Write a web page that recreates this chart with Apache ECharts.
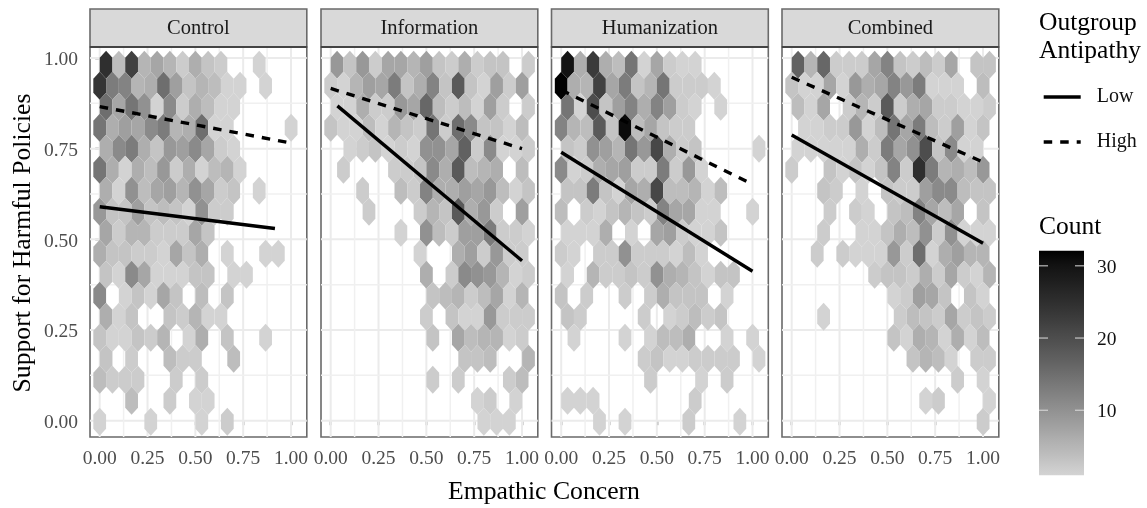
<!DOCTYPE html>
<html>
<head>
<meta charset="utf-8">
<style>html,body{margin:0;padding:0;background:#fff}#c{width:1147px;height:508px}</style>
<script src="https://cdn.jsdelivr.net/npm/echarts@6/dist/echarts.min.js"></script>
</head>
<body>
<div id="c"></div>
<script>
// ---------- data: hex-bin counts, top row first, 16 columns left to right ----------
var panelNames = ['Control', 'Information', 'Humanization', 'Combined'];
var controlCounts = [
  [25,4,22,5,7,5,2,6,3,2,0,0,1,0,0,0],
  [24,13,12,5,6,15,8,3,5,4,1,1,0,1,0,0],
  [15,7,14,10,1,11,2,6,4,1,1,0,0,0,0,0],
  [14,6,8,7,11,13,5,6,15,1,1,0,0,0,0,1],
  [6,11,13,6,3,9,8,11,7,2,1,0,0,0,0,0],
  [14,6,1,6,4,9,2,6,1,4,5,1,0,0,0,0],
  [6,1,10,4,7,8,5,10,7,2,3,0,1,0,0,0],
  [9,3,3,8,3,4,3,1,10,2,2,0,0,0,0,0],
  [7,2,5,5,2,2,2,7,3,0,0,0,0,0,0,0],
  [6,3,3,2,2,1,7,3,6,0,1,0,0,1,1,0],
  [3,1,11,7,1,1,1,3,3,0,1,1,0,0,0,0],
  [11,0,1,3,1,7,3,0,4,0,3,0,0,0,0,0],
  [6,1,3,0,0,3,2,5,1,1,0,0,0,0,0,0],
  [3,1,1,3,2,5,0,1,6,0,3,0,0,1,0,0],
  [3,0,2,0,0,4,2,2,0,0,4,0,0,0,0,0],
  [4,2,2,2,0,0,2,0,2,0,0,0,0,0,0,0],
  [0,0,4,0,0,2,0,1,1,0,0,0,0,0,0,0],
  [1,0,0,0,1,0,0,0,1,0,2,0,0,0,0,0]
];
var informationCounts = [
  [9,3,9,2,7,7,5,8,3,2,6,2,3,3,0,2],
  [2,1,5,8,7,13,3,6,12,3,18,3,1,8,2,8],
  [1,1,6,2,2,9,7,16,4,2,4,1,8,2,0,2],
  [3,1,1,4,1,5,3,2,14,2,15,11,3,3,1,4],
  [0,1,2,3,1,2,1,10,10,7,17,2,11,1,1,2],
  [0,2,0,0,0,2,2,3,11,6,18,4,5,6,0,4],
  [0,0,2,0,0,4,2,12,6,6,8,7,9,4,1,3],
  [0,0,0,2,0,0,0,2,5,3,18,6,9,2,0,8],
  [0,0,0,0,0,1,0,10,4,2,8,8,13,2,2,1],
  [0,0,0,0,0,0,0,1,0,0,6,8,2,9,2,2],
  [0,0,0,0,0,0,0,6,0,2,11,10,9,5,1,2],
  [0,0,0,0,0,0,0,0,3,4,5,2,4,7,1,5],
  [0,0,0,0,0,0,0,2,0,3,1,1,9,2,2,2],
  [0,0,0,0,0,0,0,0,3,0,7,4,5,5,1,2],
  [0,0,0,0,0,0,0,0,0,0,3,3,4,0,0,5],
  [0,0,0,0,0,0,0,0,2,0,2,0,0,0,2,4],
  [0,0,0,0,0,0,0,0,0,0,0,1,2,0,1,0],
  [0,0,0,0,0,0,0,0,0,0,0,0,1,1,1,0]
];
var humanizationCounts = [
  [30,6,23,6,4,14,1,7,2,1,1,0,0,0,0,0],
  [32,6,5,22,7,13,3,5,14,2,2,2,1,0,0,0],
  [14,1,20,3,8,12,6,12,8,2,1,0,1,0,0,0],
  [12,5,4,18,3,31,4,7,3,2,2,0,0,0,0,0],
  [3,2,10,8,5,14,9,21,6,2,3,0,0,0,0,1],
  [11,1,2,6,7,8,2,2,13,2,9,1,0,0,0,0],
  [3,3,13,3,1,7,6,21,4,4,5,1,4,0,0,0],
  [4,0,2,1,3,5,3,2,12,7,7,1,1,0,0,1],
  [1,1,1,6,0,1,0,7,8,2,1,1,3,0,0,0],
  [2,1,0,2,2,10,2,2,2,1,4,1,0,0,0,0],
  [1,0,5,2,2,3,2,10,6,5,3,1,3,3,0,0],
  [3,0,2,0,0,2,0,2,6,3,3,3,0,1,0,0],
  [3,2,0,0,0,0,2,0,1,2,4,2,3,0,0,0],
  [0,1,0,0,0,1,0,1,4,4,6,0,0,1,0,1],
  [0,0,0,0,0,0,2,3,1,1,2,2,2,2,0,1],
  [0,0,0,0,0,0,0,2,0,0,0,1,0,2,0,0],
  [1,1,1,0,0,0,0,0,0,0,2,0,0,0,0,0],
  [0,0,0,1,0,1,0,0,0,0,2,0,0,0,1,0]
];
var combinedCounts = [
  [17,5,16,2,2,2,7,12,3,2,4,2,7,0,3,3],
  [3,1,1,7,1,9,6,7,12,9,13,1,1,1,0,4],
  [4,1,7,0,2,5,2,18,2,6,7,2,2,1,1,2],
  [0,1,1,2,2,9,1,4,14,7,13,4,2,8,1,3],
  [1,1,1,1,1,6,2,13,7,10,20,3,11,1,1,0],
  [2,0,0,3,1,3,1,3,12,2,25,13,5,6,4,9],
  [0,0,3,2,0,1,0,3,2,2,8,11,11,4,3,3],
  [0,0,0,2,0,2,1,0,3,4,12,7,4,7,0,3],
  [0,0,2,0,0,1,1,3,6,4,10,2,10,1,1,1],
  [0,0,2,0,2,1,1,1,9,2,15,1,6,8,5,5],
  [0,0,0,0,0,0,2,3,3,2,6,2,7,2,1,5],
  [0,0,0,0,0,0,0,0,1,2,8,7,3,0,3,1],
  [0,0,1,0,0,0,0,0,2,4,3,2,7,2,3,2],
  [0,0,0,0,0,0,0,0,3,1,6,5,1,6,1,4],
  [0,0,0,0,0,0,0,0,0,3,5,4,1,0,2,2],
  [0,0,0,0,0,0,0,0,0,0,0,0,0,2,0,1],
  [0,0,0,0,0,0,0,0,0,0,1,2,0,0,0,1],
  [0,0,0,0,0,0,0,0,0,0,0,0,0,0,0,2]
];
// fitted lines: [empathic concern, support]
var controlLow = [[0, 0.59], [0.916, 0.53]];
var controlHigh = [[0, 0.866], [0.986, 0.767]];
var informationLow = [[0.035, 0.868], [1, 0.441]];
var informationHigh = [[0, 0.916], [1, 0.75]];
var humanizationLow = [[0, 0.74], [1, 0.412]];
var humanizationHigh = [[0, 0.912], [0.972, 0.659]];
var combinedLow = [[0, 0.788], [1, 0.489]];
var combinedHigh = [[0, 0.947], [1, 0.713]];
var tickValues = [0, 0.25, 0.5, 0.75, 1];
var minorValues = [0.125, 0.375, 0.625, 0.875];
var countTicks = [10, 20, 30];

// ---------- layout ----------
var FONT = '"Liberation Serif"';
var panelLeft = [90, 321, 551.5, 782];
var panelW = 216.8, panelTop = 47, panelH = 390;
var xMin = -0.0507, xMax = 1.0825, yMin = -0.045, yMax = 1.0304;
var binX = 0.0667, binY = 0.0579, binY0 = -0.003;
var countMin = 1, countMax = 32.1;

function countGray(c) {
  var L = 84.6 * (1 - (c - countMin) / (countMax - countMin));
  var Y = L > 8 ? Math.pow((L + 16) / 116, 3) : L / 903.3;
  var s = Y <= 0.0031308 ? 12.92 * Y : 1.055 * Math.pow(Y, 1 / 2.4) - 0.055;
  var v = Math.round(Math.max(0, Math.min(1, s)) * 255);
  return 'rgb(' + v + ',' + v + ',' + v + ')';
}

function hexData(rows) {
  var out = [];
  rows.forEach(function (row, r) {
    var level = rows.length - 1 - r;
    row.forEach(function (count, j) {
      if (count > 0) out.push([(j + (level % 2 ? 0.5 : 0)) * binX, binY0 + level * binY, count]);
    });
  });
  return out;
}

function renderHex(params, api) {
  var x = api.value(0), y = api.value(1);
  var hx = binX / 2, hy = binY / 3;
  var pts = [[0, 2 * hy], [hx, hy], [hx, -hy], [0, -2 * hy], [-hx, -hy], [-hx, hy]].map(function (d) {
    return api.coord([x + d[0], y + d[1]]);
  });
  return { type: 'polygon', shape: { points: pts }, style: { fill: countGray(api.value(2)) }, silent: true };
}

function renderGridLine(params, api) {
  var v = api.value(0), isX = api.value(1) === 0, major = api.value(2) === 1;
  var a = isX ? api.coord([v, yMin]) : api.coord([xMin, v]);
  var b = isX ? api.coord([v, yMax]) : api.coord([xMax, v]);
  return {
    type: 'line', shape: { x1: a[0], y1: a[1], x2: b[0], y2: b[1] },
    style: { stroke: major ? '#ebebeb' : '#f0f0f0', lineWidth: major ? 2 : 1.5 }, silent: true
  };
}

var gridLineData = [];
tickValues.forEach(function (v) { gridLineData.push([v, 0, 1], [v, 1, 1]); });
minorValues.forEach(function (v) { gridLineData.push([v, 0, 0], [v, 1, 0]); });

var allCounts = [controlCounts, informationCounts, humanizationCounts, combinedCounts];
var allLow = [controlLow, informationLow, humanizationLow, combinedLow];
var allHigh = [controlHigh, informationHigh, humanizationHigh, combinedHigh];

var grids = [], xAxes = [], yAxes = [], series = [], graphics = [];
var tickStyle = { show: true, length: 4.5, lineStyle: { color: '#333', width: 1.4 }, customValues: tickValues };
var labelStyle = { show: true, color: '#4d4d4d', fontFamily: FONT, fontSize: 19.5, customValues: tickValues,
  formatter: function (v) { return Number(v).toFixed(2); } };

panelNames.forEach(function (name, i) {
  grids.push({ left: panelLeft[i], top: panelTop, width: panelW, height: panelH, show: true,
    backgroundColor: '#fff', borderColor: '#6a6a6a', borderWidth: 1.6, containLabel: false });
  xAxes.push({ type: 'value', gridIndex: i, min: xMin, max: xMax, splitLine: { show: false }, axisLine: { show: false },
    axisTick: tickStyle, axisLabel: Object.assign({}, labelStyle, { margin: 12 }) });
  yAxes.push({ type: 'value', gridIndex: i, min: yMin, max: yMax, splitLine: { show: false }, axisLine: { show: false },
    axisTick: i === 0 ? tickStyle : { show: false },
    axisLabel: i === 0 ? Object.assign({}, labelStyle, { margin: 12, verticalAlign: 'top', lineHeight: 4.6 }) : { show: false } });
  series.push({ type: 'custom', name: 'grid' + i, xAxisIndex: i, yAxisIndex: i, z: 1, clip: true, silent: true,
    data: gridLineData, renderItem: renderGridLine, encode: { x: 0 }, animation: false });
  series.push({ type: 'custom', name: name, xAxisIndex: i, yAxisIndex: i, z: 2, silent: true,
    data: hexData(allCounts[i]), renderItem: renderHex, encode: { x: 0, y: 1 }, animation: false });
  series.push({ type: 'line', name: 'Low', xAxisIndex: i, yAxisIndex: i, z: 3, symbol: 'none', silent: true, animation: false,
    data: allLow[i], lineStyle: { color: '#000', width: 3.4, cap: 'butt' }, itemStyle: { color: '#000' } });
  series.push({ type: 'line', name: 'High', xAxisIndex: i, yAxisIndex: i, z: 3, symbol: 'none', silent: true, animation: false,
    data: allHigh[i], lineStyle: { color: '#000', width: 3.4, type: [8.5, 8], cap: 'butt' }, itemStyle: { color: '#000' } });
  graphics.push({ type: 'rect', shape: { x: panelLeft[i], y: 9, width: panelW, height: 38 }, z: 5,
    style: { fill: '#d9d9d9', stroke: '#6a6a6a', lineWidth: 1.6 } });
  graphics.push({ type: 'line', shape: { x1: panelLeft[i], y1: 47, x2: panelLeft[i] + panelW, y2: 47 }, z: 6,
    style: { stroke: '#444', lineWidth: 1.8 } });
  graphics.push({ type: 'text', x: panelLeft[i] + panelW / 2, y: 29, z: 7,
    style: { text: name, fill: '#1a1a1a', font: '20.5px ' + FONT, textAlign: 'center', textVerticalAlign: 'middle' } });
});

// colour bar, drawn on its own count axis
var barStops = [];
for (var s = 0; s <= 31; s++) {
  var c = countMax - (countMax - countMin) * s / 31;
  barStops.push({ offset: s / 31, color: countGray(c) });
}
grids.push({ left: 1039, top: 250.7, width: 45, height: 224.5, show: false });
xAxes.push({ type: 'value', gridIndex: 4, min: 0, max: 1, show: false });
yAxes.push({ type: 'value', gridIndex: 4, position: 'right', min: countMin, max: countMax, splitLine: { show: false },
  axisLine: { show: false }, axisTick: { show: false },
  axisLabel: { show: true, customValues: countTicks, margin: 13, color: '#111', fontFamily: FONT, fontSize: 19.5, verticalAlign: 'top', lineHeight: 3.4 } });
series.push({ type: 'custom', name: 'countBar', xAxisIndex: 4, yAxisIndex: 4, z: 2, silent: true, animation: false,
  data: [[0, countMin, 1, countMax]], encode: { x: [0, 2], y: [1, 3] },
  renderItem: function (p, api) {
    var a = api.coord([api.value(0), api.value(3)]), b = api.coord([api.value(2), api.value(1)]);
    return { type: 'rect', shape: { x: a[0], y: a[1], width: b[0] - a[0], height: b[1] - a[1] },
      style: { fill: new echarts.graphic.LinearGradient(0, 0, 0, 1, barStops) } };
  } });
series.push({ type: 'custom', name: 'countTicks', xAxisIndex: 4, yAxisIndex: 4, z: 3, silent: true, animation: false,
  data: countTicks.map(function (v) { return [v]; }), encode: { y: 0 },
  renderItem: function (p, api) {
    var v = api.value(0);
    var l1 = api.coord([0, v]), l2 = api.coord([0.2, v]), r1 = api.coord([0.8, v]), r2 = api.coord([1, v]);
    return { type: 'group', children: [
      { type: 'line', shape: { x1: l1[0], y1: l1[1], x2: l2[0], y2: l2[1] }, style: { stroke: '#ddd', lineWidth: 1 } },
      { type: 'line', shape: { x1: r1[0], y1: r1[1], x2: r2[0], y2: r2[1] }, style: { stroke: '#ddd', lineWidth: 1 } }
    ] };
  } });

function label(text, x, y, size, opts) {
  return Object.assign({ type: 'text', x: x, y: y, z: 7,
    style: { text: text, fill: '#000', font: size + 'px ' + FONT, textAlign: 'left', textVerticalAlign: 'middle' } }, opts || {});
}
graphics.push(label('Outgroup', 1039, 23, 25.5));
graphics.push(label('Antipathy', 1039, 51, 25.5));
graphics.push(label('Count', 1039, 227, 25.5));
var xt = label('Empathic Concern', 544, 492, 25.7); xt.style.textAlign = 'center'; graphics.push(xt);
var yt = label('Support for Harmful Policies', 23, 243, 25.7, { rotation: Math.PI / 2 }); yt.style.textAlign = 'center'; graphics.push(yt);

var chart = echarts.init(document.getElementById('c'));
chart.setOption({
  animation: false,
  backgroundColor: '#fff',
  grid: grids, xAxis: xAxes, yAxis: yAxes, series: series,
  legend: { show: true, data: ['Low', 'High'], orient: 'vertical', left: 1042, top: 87, itemWidth: 37, itemHeight: 14, itemGap: 25,
    padding: 0, selectedMode: false, itemStyle: { opacity: 0 }, lineStyle: { width: 3.4 },
    textStyle: { fontFamily: FONT, fontSize: 20, color: '#111', padding: [0, 0, 0, 11] } },
  graphic: { elements: graphics }
});
</script>
</body>
</html>
